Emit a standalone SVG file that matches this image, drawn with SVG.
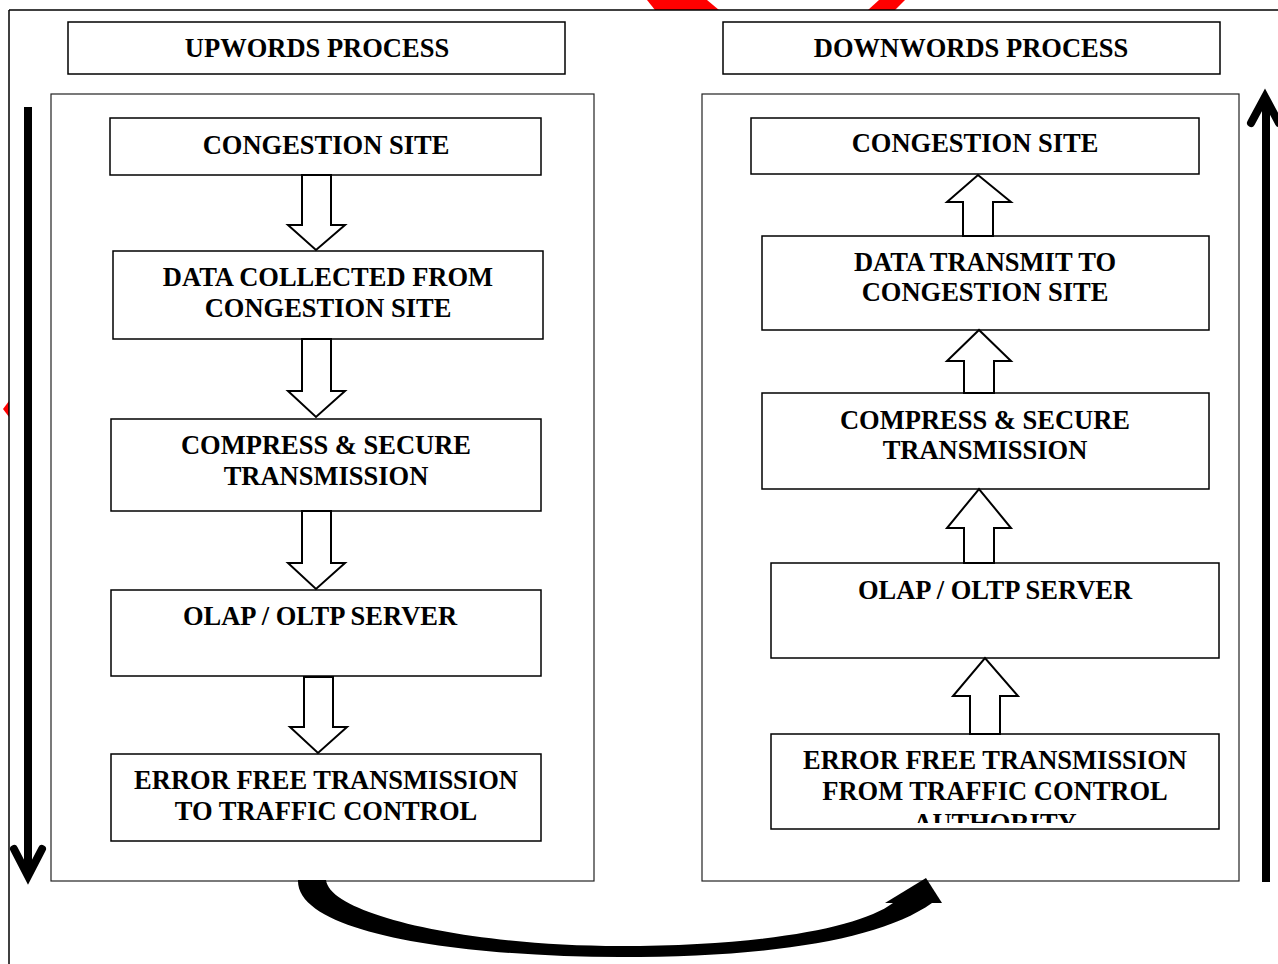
<svg xmlns="http://www.w3.org/2000/svg" width="1278" height="964" viewBox="0 0 1278 964">
<style>
.box{fill:#fff;stroke:#000;stroke-width:1.5}
.panel{fill:#fff;stroke:#222;stroke-width:1.2}
.t{font-family:"Liberation Serif","Times New Roman",serif;font-weight:bold;font-size:26.5px;fill:#000;text-anchor:middle}
.blk{fill:#fff;stroke:#000;stroke-width:2;stroke-linejoin:miter}
.red{fill:#f00}
</style>
<defs>
<clipPath id="clipAuth"><rect x="771" y="734" width="448" height="89"/></clipPath>
</defs>
<rect width="1278" height="964" fill="#fff"/>
<!-- red fragments -->
<polygon class="red" points="647,0 707,0 719,10 655,10"/>
<polygon class="red" points="879,0 905,0 895,10 868,10"/>
<polygon class="red" points="3,409 9,401 9,417"/>
<!-- outer frame lines -->
<line x1="9" y1="10" x2="1278" y2="10" stroke="#000" stroke-width="1.5"/>
<line x1="9" y1="10" x2="9" y2="964" stroke="#000" stroke-width="1.5"/>

<g id="hdr-up"><rect class="box" x="68" y="22" width="497" height="52"/><text class="t" x="317" y="57">UPWORDS PROCESS</text></g>
<g id="hdr-down"><rect class="box" x="723" y="22" width="497" height="52"/><text class="t" x="971" y="57">DOWNWORDS PROCESS</text></g>

<g id="panel-left"><rect class="panel" x="51" y="94" width="543" height="787"/></g>
<g id="panel-right"><rect class="panel" x="702" y="94" width="537" height="787"/></g>

<g id="l1"><rect class="box" x="110" y="118" width="431" height="57"/><text class="t" x="326" y="154">CONGESTION SITE</text></g>
<g id="l2"><rect class="box" x="113" y="251" width="430" height="88"/><text class="t" x="328" y="286">DATA COLLECTED FROM</text><text class="t" x="328" y="317">CONGESTION SITE</text></g>
<g id="l3"><rect class="box" x="111" y="419" width="430" height="92"/><text class="t" x="326" y="454">COMPRESS &amp; SECURE</text><text class="t" x="326" y="485">TRANSMISSION</text></g>
<g id="l4"><rect class="box" x="111" y="590" width="430" height="86"/><text class="t" x="320" y="625">OLAP / OLTP SERVER</text></g>
<g id="l5"><rect class="box" x="111" y="754" width="430" height="87"/><text class="t" x="326" y="789">ERROR FREE TRANSMISSION</text><text class="t" x="326" y="820">TO TRAFFIC CONTROL</text></g>

<g id="r1"><rect class="box" x="751" y="118" width="448" height="56"/><text class="t" x="975" y="152">CONGESTION SITE</text></g>
<g id="r2"><rect class="box" x="762" y="236" width="447" height="94"/><text class="t" x="985" y="271">DATA TRANSMIT TO</text><text class="t" x="985" y="301">CONGESTION SITE</text></g>
<g id="r3"><rect class="box" x="762" y="393" width="447" height="96"/><text class="t" x="985" y="429">COMPRESS &amp; SECURE</text><text class="t" x="985" y="459">TRANSMISSION</text></g>
<g id="r4"><rect class="box" x="771" y="563" width="448" height="95"/><text class="t" x="995" y="599">OLAP / OLTP SERVER</text></g>
<g id="r5"><rect class="box" x="771" y="734" width="448" height="95"/><g clip-path="url(#clipAuth)"><text class="t" x="995" y="769">ERROR FREE TRANSMISSION</text><text class="t" x="995" y="800">FROM TRAFFIC CONTROL</text><text class="t" x="995" y="832">AUTHORITY</text></g></g>

<g id="connectors">
<!-- left down block arrows -->
<polygon class="blk" points="302,175 331,175 331,225 345,225 316,250 288,225 302,225"/>
<polygon class="blk" points="302,339 331,339 331,391 345,391 316,417 288,391 302,391"/>
<polygon class="blk" points="302,511 331,511 331,563 345,563 316,589 288,563 302,563"/>
<polygon class="blk" points="304,677 333,677 333,727 347,727 318,753 290,727 304,727"/>
<!-- right up block arrows -->
<polygon class="blk" points="963,236 993,236 993,202 1011,202 978,175 947,202 963,202"/>
<polygon class="blk" points="964,393 994,393 994,361 1011,361 979,330 947,361 964,361"/>
<polygon class="blk" points="964,563 994,563 994,528 1011,528 979,489 947,528 964,528"/>
<polygon class="blk" points="970,734 1000,734 1000,696 1018,696 985,658 953,696 970,696"/>
<!-- side arrows -->
<line x1="28" y1="107" x2="28" y2="872" stroke="#000" stroke-width="8"/>
<polyline points="14,849 28,876 42,849" fill="none" stroke="#000" stroke-width="8" stroke-linecap="round" stroke-linejoin="miter"/>
<line x1="1266" y1="882" x2="1266" y2="100" stroke="#000" stroke-width="8"/>
<polyline points="1251,123 1265,97 1279,123" fill="none" stroke="#000" stroke-width="8" stroke-linecap="round" stroke-linejoin="miter"/>
<!-- bottom curved arrow -->
<path d="M298,880 L326,880 C330,915 470,946 620,946 C760,946 860,928 893,903 L932,903 C880,940 770,957 620,957 C470,957 296,935 298,880 Z" fill="#000"/>
<polygon points="885,903 926,878 942,903" fill="#000"/>
</g>
</svg>
